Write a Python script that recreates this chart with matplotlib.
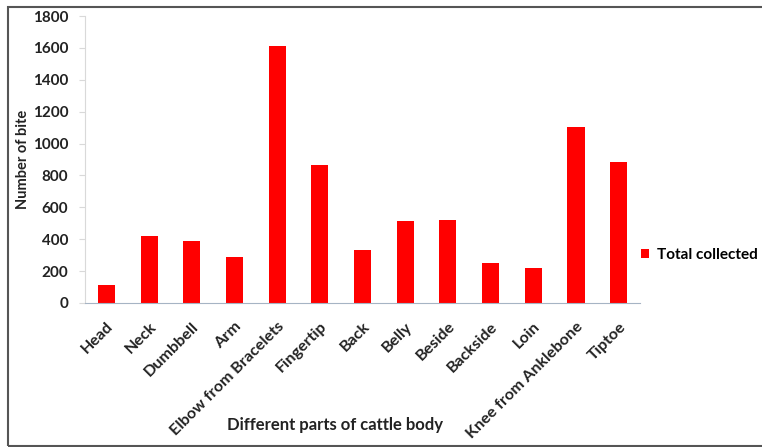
import numpy as np
import matplotlib.pyplot as plt
from matplotlib.patches import Rectangle

# bite counts per body part
parts = ['Head', 'Neck', 'Dumbbell', 'Arm', 'Elbow from Bracelets', 'Fingertip',
         'Back', 'Belly', 'Beside', 'Backside', 'Loin', 'Knee from Anklebone', 'Tiptoe']
bites = [110, 420, 390, 290, 1610, 865, 335, 515, 520, 250, 220, 1105, 885]

plt.rcParams['font.family'] = ['Lato', 'DejaVu Sans']

fig = plt.figure(figsize=(7.62, 4.47), dpi=100)
ax = fig.add_axes([85 / 762, 1 - 303 / 447, 555 / 762, 287 / 447])

ind = np.arange(len(parts))
bars = ax.bar(ind, bites, width=0.4, color='#ff0000', label='Total collected')

ax.set_xlim(-0.5, len(parts) - 0.5)
ax.set_ylim(0, 1800)
ax.set_yticks(np.arange(0, 1801, 200))
ax.set_xticks(ind)
ax.set_xticklabels(parts, rotation=45, ha='right', rotation_mode='anchor',
                   fontsize=11.6, fontweight='bold', color='#222222')
for t in ax.get_yticklabels():
    t.set_fontweight('bold')
    t.set_fontsize(11)
    t.set_color('#222222')

ax.tick_params(axis='x', length=0, pad=12)
ax.tick_params(axis='y', length=4, color='#d9d9d9', pad=8)
for s in ('top', 'right'):
    ax.spines[s].set_visible(False)
ax.spines['left'].set_color('#d9d9d9')
ax.spines['bottom'].set_color('#a6b4c4')

ax.set_ylabel('Number of bite', fontsize=10.5, fontweight='bold', labelpad=2,
              color='#222222')
fig.text(335 / 762, 1 - 425 / 447, 'Different parts of cattle body',
         ha='center', va='center', fontsize=12, fontweight='bold', color='#222222')

fig.legend(handles=[bars], labels=['Total collected'], loc='center left',
           bbox_to_anchor=(627 / 762, 1 - 255 / 447), frameon=False,
           handlelength=0.55, handleheight=0.55, handletextpad=0.5,
           prop={'size': 11, 'weight': 'bold'})

# outer frame
fig.patches.append(Rectangle((8 / 762, 1 - 446 / 447), 0.999, 439 / 447,
                             transform=fig.transFigure, fill=False,
                             edgecolor='#555555', linewidth=1.5))

fig.savefig('out.png', dpi=100)
